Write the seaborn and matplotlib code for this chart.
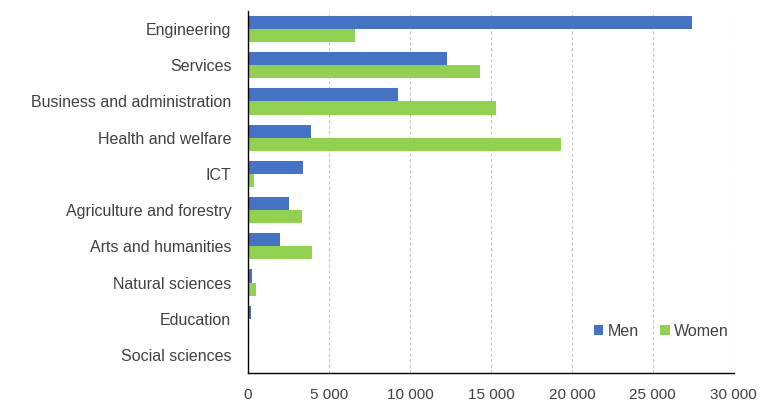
import matplotlib
matplotlib.use("Agg")
import matplotlib.pyplot as plt
import matplotlib.ticker as mticker
import seaborn as sns
import pandas as pd

# ── Data ──
fields = ["Engineering", "Services", "Business and administration", "Health and welfare",
          "ICT", "Agriculture and forestry", "Arts and humanities", "Natural sciences",
          "Education", "Social sciences"]
men = [27400, 12300, 9250, 3900, 3400, 2550, 1950, 270, 180, 0]
women = [6600, 14300, 15300, 19300, 350, 3350, 3950, 470, 0, 0]

df = pd.DataFrame({
    "field": fields * 2,
    "value": men + women,
    "sex": ["Men"] * len(fields) + ["Women"] * len(fields),
})

sns.set_style("white")
plt.rcParams["font.family"] = ["Liberation Sans", "DejaVu Sans"]

fig = plt.figure(figsize=(7.62, 4.07), dpi=100)
ax = fig.add_axes([0.3255, 0.0835, 0.6375, 0.8895])

sns.barplot(data=df, y="field", x="value", hue="sex", order=fields,
            palette={"Men": "#4472C4", "Women": "#92D050"},
            width=0.72, saturation=1, ax=ax, edgecolor="none")

ax.set_xlim(0, 30000)
ax.set_ylim(len(fields) - 0.5, -0.5)
ax.xaxis.set_major_locator(mticker.MultipleLocator(5000))
ax.xaxis.set_major_formatter(mticker.FuncFormatter(lambda v, p: f"{int(v):,}".replace(",", " ")))
ax.grid(axis="x", color="#C8C8C8", linestyle=(0, (3, 2)), linewidth=0.8)
ax.set_axisbelow(True)

for s in ["top", "right"]:
    ax.spines[s].set_visible(False)
ax.spines["left"].set_color("black")
ax.spines["bottom"].set_color("black")
ax.spines["left"].set_linewidth(1.0)
ax.spines["bottom"].set_linewidth(1.0)

ax.tick_params(axis="x", direction="out", length=5, width=1, color="black",
               labelsize=11, labelcolor="#404040", pad=6)
ax.tick_params(axis="y", length=0, labelsize=11.5, labelcolor="#404040", pad=12)
ax.set_xlabel("")
ax.set_ylabel("")

ax.legend(loc="lower right", bbox_to_anchor=(1.02, 0.055), ncol=2, frameon=False,
          fontsize=11.5, handlelength=0.6, handleheight=0.6, handletextpad=0.3,
          columnspacing=1.3, labelcolor="#404040")

fig.savefig("out.png", dpi=100)
